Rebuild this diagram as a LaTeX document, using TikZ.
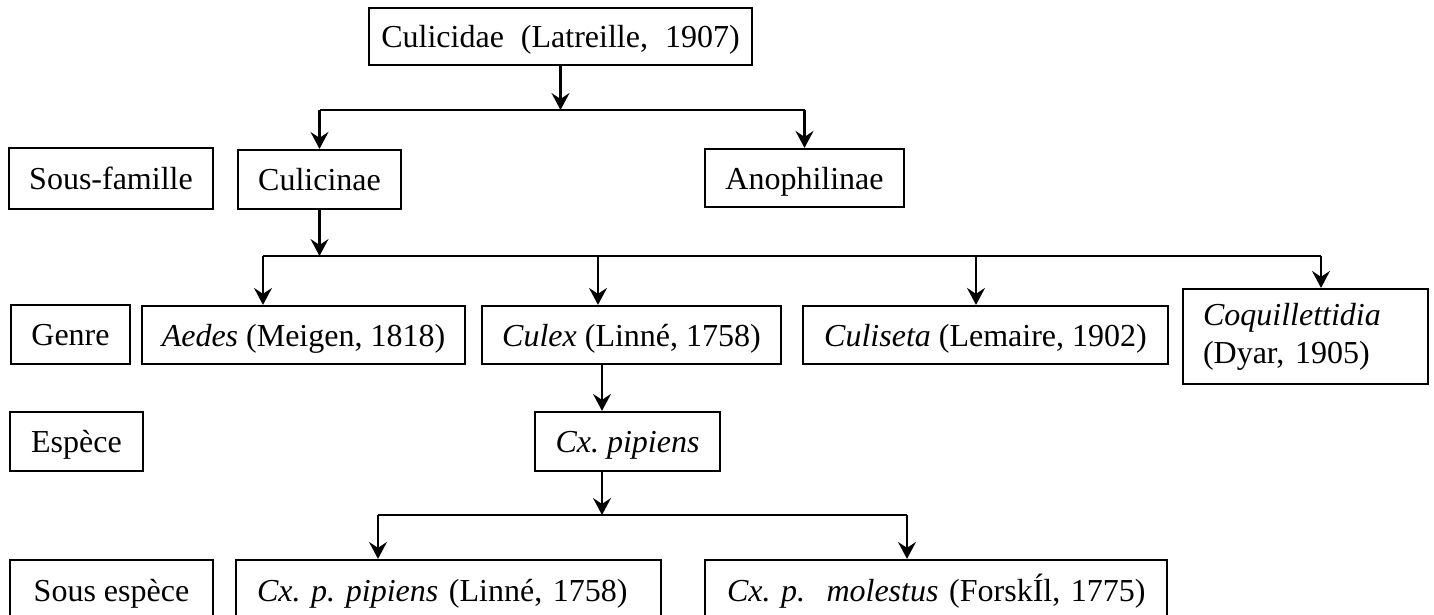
\documentclass[tikz,border=0pt]{standalone}
\usepackage{fontspec}
\setmainfont{Liberation Serif}
\usetikzlibrary{arrows.meta,calc}
\begin{document}
\frenchspacing
\begin{tikzpicture}[x=1pt,y=-1pt,
  box/.style={draw, line width=2.2pt, inner sep=0pt, font=\fontsize{32}{38}\selectfont\frenchspacing, align=center},
  one/.style={text height=22pt, text depth=0pt},
  arr/.style={line width=2.2pt, -{Stealth[length=17pt,width=18pt,inset=6pt]}},
  ln/.style={line width=2.2pt}]
\useasboundingbox[fill=white] (0,0) rectangle (1434,615);

% nodes
\node[box, one, minimum width=383pt, minimum height=57pt] (culicidae) at (560.5,36.5) {\mbox{Culicidae\hspace{17pt}(Latreille,\hspace{17pt}1907)}};

\node[box, one, minimum width=204pt, minimum height=61pt] (ssfam) at (111,178.5) {Sous-famille};
\node[box, one, minimum width=163pt, minimum height=59pt] (culicinae) at (319.5,179.5) {Culicinae};
\node[box, one, minimum width=199pt, minimum height=58pt] (anoph) at (804.5,178) {Anophilinae};

\node[box, one, minimum width=119pt, minimum height=59pt] (genre) at (70.5,334.5) {Genre};
\node[box, one, minimum width=323pt, minimum height=58pt] (aedes) at (303.5,335) {\textit{Aedes} (Meigen, 1818)};
\node[box, one, minimum width=299pt, minimum height=58pt] (culex) at (631.5,335) {\textit{Culex} (Linné, 1758)};
\node[box, one, minimum width=365pt, minimum height=58pt] (culiseta) at (985.5,335) {\textit{Culiseta} (Lemaire, 1902)};
\node[box, align=left, inner xsep=20pt, text width=205pt, minimum height=95pt] (coq) at (1305.5,336.5) {\mbox{\textit{Coquillettidia}}\\\mbox{(Dyar, 1905)}};

\node[box, one, minimum width=133pt, minimum height=59pt] (espece) at (76.5,441.5) {Espèce};
\node[box, one, minimum width=185pt, minimum height=59pt] (pipiens) at (627.5,441.5) {\textit{Cx. pipiens}};

\node[box, one, minimum width=203pt, minimum height=60pt] (ssesp) at (111.5,590) {Sous espèce};
\node[box, one, align=left, inner xsep=21pt, text width=383pt, minimum height=60pt] (cxpp) at (448.5,590) {\mbox{\textit{Cx. p. pipiens} (Linné, 1758)}};
\node[box, one, align=left, inner xsep=22pt, text width=418pt, minimum height=60pt] (cxpm) at (936,590) {\mbox{\textit{Cx. p.\ \ molestus} (ForskÍl, 1775)}};

% level 1 connectors
\coordinate (j1) at (culicidae.south |- 0,110);
\coordinate (h1a) at (culicinae.north |- 0,110);
\coordinate (h1b) at (anoph.north |- 0,110);
\draw[ln] (h1a) -- (h1b);
\draw[arr] (culicidae.south) -- (j1);
\draw[arr] (h1a) -- (culicinae.north);
\draw[arr] (h1b) -- (anoph.north);

% level 2 connectors
\coordinate (j2) at (culicinae.south |- 0,256);
\coordinate (g1) at (263,256);
\coordinate (g2) at (598,256);
\coordinate (g3) at (976,256);
\coordinate (g4) at (1321,256);
\draw[ln] (g1) -- (g4);
\draw[arr] (culicinae.south) -- (j2);
\draw[arr] (g1) -- (g1 |- aedes.north);
\draw[arr] (g2) -- (g2 |- culex.north);
\draw[arr] (g3) -- (g3 |- culiseta.north);
\draw[arr] (g4) -- (g4 |- coq.north);

% level 3 connectors
\coordinate (c1) at (602,0);
\coordinate (j3) at (602,515);
\coordinate (s1) at (378,515);
\coordinate (s2) at (907,515);
\draw[arr] (culex.south -| c1) -- (pipiens.north -| c1);
\draw[ln] (s1) -- (s2);
\draw[arr] (pipiens.south -| c1) -- (j3);
\draw[arr] (s1) -- (s1 |- cxpp.north);
\draw[arr] (s2) -- (s2 |- cxpm.north);
\end{tikzpicture}
\end{document}
